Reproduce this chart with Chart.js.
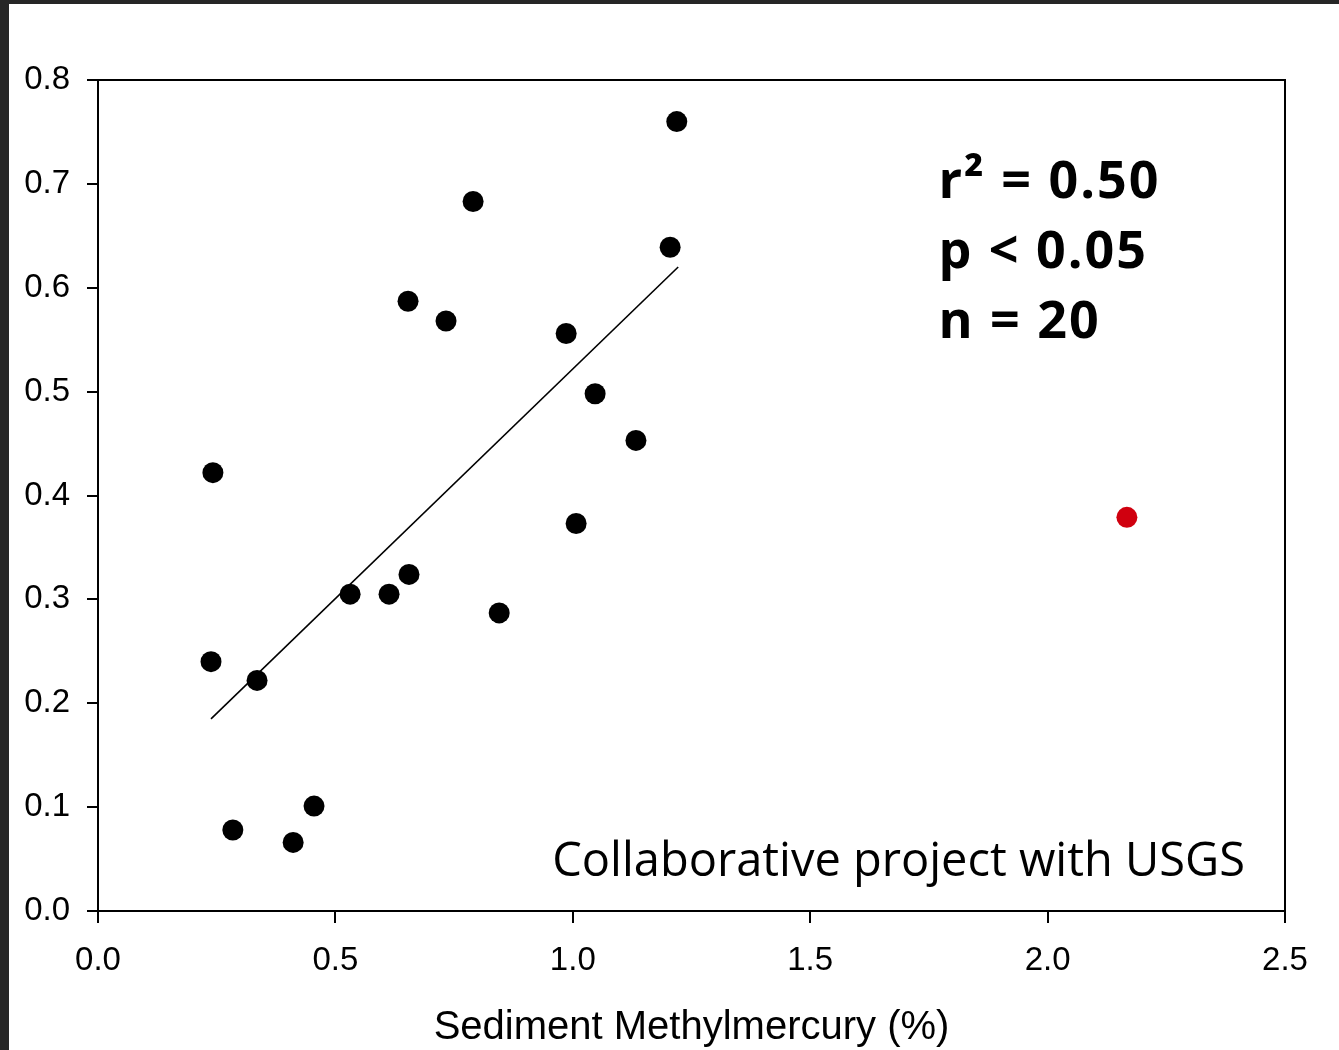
<!DOCTYPE html>
<html>
<head>
<meta charset="utf-8">
<script src="https://cdn.jsdelivr.net/npm/chart.js@4"></script>
<style>
  html, body { margin: 0; padding: 0; background: #262626; width: 1339px; height: 1050px; overflow: hidden; }
  #wrap { position: absolute; left: 9px; top: 4px; width: 1330px; height: 1046px; background: #ffffff; }
  canvas { display: block; }
</style>
</head>
<body>
<div id="wrap"><canvas id="c"></canvas></div>
<script>
// Data
const blackX = [0.242, 0.238, 0.335, 0.284, 0.411, 0.455, 0.531, 0.613, 0.655, 0.653, 0.733, 0.790, 0.845, 0.986, 1.007, 1.047, 1.133, 1.205, 1.219];
const blackY = [0.422, 0.240, 0.222, 0.078, 0.066, 0.101, 0.305, 0.305, 0.324, 0.587, 0.568, 0.683, 0.287, 0.556, 0.373, 0.498, 0.453, 0.639, 0.760];
const redX = [2.167];
const redY = [0.379];
const fitX = [0.238, 1.222];
const fitY = [0.185, 0.620];
const xTicks = [0.0, 0.5, 1.0, 1.5, 2.0, 2.5];
const yTicks = [0.0, 0.1, 0.2, 0.3, 0.4, 0.5, 0.6, 0.7, 0.8];
const xTitle = 'Sediment Methylmercury (%)';
const statLines = ['r\u00B2 = 0.50', 'p < 0.05', 'n = 20'];
const noteText = 'Collaborative project with USGS';

const toPts = (xs, ys) => xs.map((x, i) => ({ x: x, y: ys[i] }));

const framePlugin = {
  id: 'frame',
  afterDraw(chart) {
    const { ctx, chartArea: a } = chart;
    ctx.save();
    ctx.strokeStyle = '#000';
    ctx.lineWidth = 2;
    ctx.beginPath();
    ctx.moveTo(a.left - 11, a.top);
    ctx.lineTo(a.right, a.top);
    ctx.lineTo(a.right, a.bottom);
    ctx.stroke();
    // annotations
    ctx.fillStyle = '#000';
    ctx.textBaseline = 'alphabetic';
    ctx.textAlign = 'left';
    ctx.font = 'bold 52px "Open Sans"';
    try { ctx.letterSpacing = '2px'; } catch (e) {}
    const xs = chart.scales.x, ys = chart.scales.y;
    const sx = xs.getPixelForValue(1.77);
    statLines.forEach((t, i) => {
      ctx.fillText(t, sx, ys.getPixelForValue(0.7) + 14 + i * 70);
    });
    try { ctx.letterSpacing = '0px'; } catch (e) {}
    ctx.font = '47px "Open Sans"';
    ctx.textAlign = 'right';
    ctx.fillText(noteText, a.right - 40, ys.getPixelForValue(0.0) - 35);
    ctx.restore();
  }
};

new Chart(document.getElementById('c'), {
  type: 'scatter',
  data: {
    datasets: [
      { data: toPts(blackX, blackY), backgroundColor: '#000', borderColor: '#000', pointRadius: 10.5, pointHoverRadius: 10.5, borderWidth: 0, order: 1 },
      { data: toPts(redX, redY), backgroundColor: '#d0000f', borderColor: '#d0000f', pointRadius: 10.5, pointHoverRadius: 10.5, borderWidth: 0, order: 1 },
      { type: 'line', data: toPts(fitX, fitY), borderColor: '#000', borderWidth: 1.6, pointRadius: 0, fill: false, showLine: true, order: 2 }
    ]
  },
  options: {
    responsive: true,
    maintainAspectRatio: false,
    animation: false,
    events: [],
    layout: { padding: { left: 0, top: 76, right: 54, bottom: 0 } },
    plugins: { legend: { display: false }, tooltip: { enabled: false } },
    scales: {
      x: {
        type: 'linear', min: 0, max: 2.5,
        afterBuildTicks: s => { s.ticks = xTicks.map(v => ({ value: v })); },
        afterFit: s => { s.height = 139; },
        grid: { display: true, drawOnChartArea: false, drawTicks: true, tickLength: 12, color: '#000', lineWidth: 2 },
        border: { display: true, color: '#000', width: 2 },
        ticks: { color: '#000', font: { family: '"Liberation Sans", Arial', size: 33 }, padding: 18, maxRotation: 0, callback: v => Number(v).toFixed(1) },
        title: { display: true, text: xTitle, color: '#000', font: { family: '"Liberation Sans", Arial', size: 40, lineHeight: 1.0 }, padding: { top: 0, bottom: 2 } }
      },
      y: {
        type: 'linear', min: 0, max: 0.8,
        afterBuildTicks: s => { s.ticks = yTicks.map(v => ({ value: v })); },
        afterFit: s => { s.width = 89; },
        grid: { display: true, drawOnChartArea: false, drawTicks: true, tickLength: 11, color: '#000', lineWidth: 2 },
        border: { display: true, color: '#000', width: 2 },
        ticks: { color: '#000', font: { family: '"Liberation Sans", Arial', size: 33 }, padding: 17, callback: v => Number(v).toFixed(1) }
      }
    }
  },
  plugins: [framePlugin]
});
</script>
</body>
</html>
